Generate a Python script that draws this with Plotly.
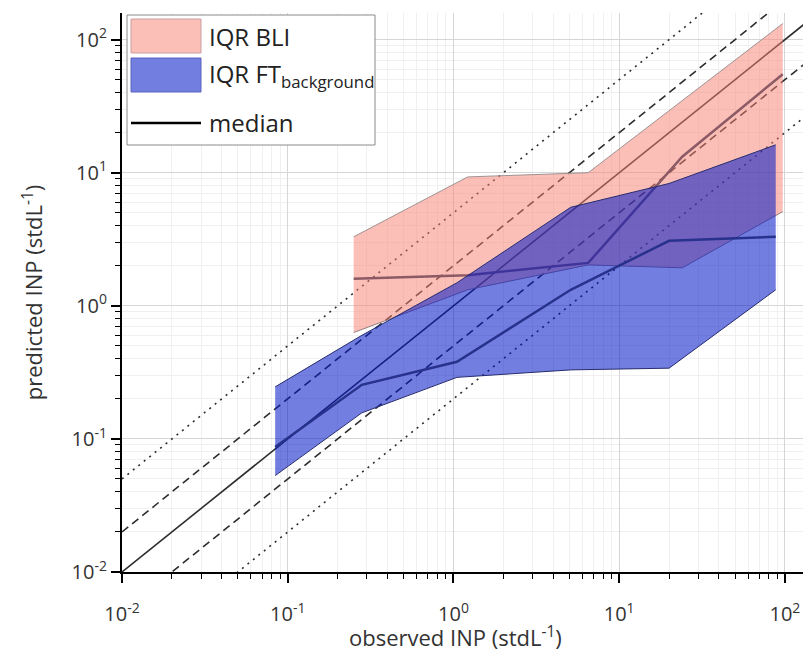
import plotly.graph_objects as go

# ---------------- data ----------------
ref_factors = [1, 2, 5]
ref_x = [0.01, 1000]

bli_x = [0.25, 1.22, 6.5, 24, 97]
bli_q25 = [0.63, 1.32, 2.03, 1.93, 5.1]
bli_median = [1.6, 1.7, 2.1, 13.2, 55]
bli_q75 = [3.3, 9.3, 10.0, 35, 132]

ft_x = [0.084, 0.28, 1.05, 5.1, 20, 88]
ft_q25 = [0.053, 0.157, 0.29, 0.33, 0.34, 1.32]
ft_median = [0.087, 0.255, 0.38, 1.32, 3.08, 3.3]
ft_q75 = [0.246, 0.6, 1.49, 5.5, 8.3, 16.2]

tick_vals = [0.01, 0.1, 1, 10, 100]
tick_text = ["10<sup>-2</sup>", "10<sup>-1</sup>", "10<sup>0</sup>", "10<sup>1</sup>", "10<sup>2</sup>"]

x_title = "observed INP (stdL<sup>-1</sup>)"
y_title = "predicted INP (stdL<sup>-1</sup>)"
legend_labels = ["IQR BLI", "IQR FT<sub>background</sub>", "median"]

# ---------------- styles ----------------
FONT = "Open Sans"
PINK_FILL = "rgba(250,128,114,0.5)"
BLUE_FILL = "rgba(0,22,199,0.55)"
REF_COLOR = "rgb(45,45,45)"

fig = go.Figure()

# reference lines 1:1, factor 2, factor 5 (bottom layer, primary x axis)
styles = {1: "solid", 2: "8px,5px", 5: "2px,5px"}
for f in ref_factors:
    for k in ([1] if f == 1 else [f, 1.0 / f]):
        fig.add_trace(go.Scatter(
            x=ref_x, y=[v * k for v in ref_x], mode="lines",
            line=dict(color=REF_COLOR, width=1.6, dash=styles[f]),
            showlegend=False, hoverinfo="skip"))

# bands on the overlaid x axis (same range), drawn above the reference lines
# BLI band
fig.add_trace(go.Scatter(x=bli_x, y=bli_q25, mode="lines", xaxis="x2",
                         line=dict(color="rgb(150,125,125)", width=1),
                         showlegend=False))
fig.add_trace(go.Scatter(x=bli_x, y=bli_q75, mode="lines", fill="tonexty", xaxis="x2",
                         fillcolor=PINK_FILL,
                         line=dict(color="rgb(160,145,145)", width=1),
                         showlegend=False))
fig.add_trace(go.Scatter(x=bli_x, y=bli_median, mode="lines", xaxis="x2",
                         line=dict(color="rgb(140,90,100)", width=2.5),
                         showlegend=False))

# FT background band
fig.add_trace(go.Scatter(x=ft_x, y=ft_q25, mode="lines", xaxis="x2",
                         line=dict(color="rgb(40,45,110)", width=1),
                         showlegend=False))
fig.add_trace(go.Scatter(x=ft_x, y=ft_q75, mode="lines", fill="tonexty", xaxis="x2",
                         fillcolor=BLUE_FILL,
                         line=dict(color="rgb(40,45,110)", width=1),
                         showlegend=False))
fig.add_trace(go.Scatter(x=ft_x, y=ft_median, mode="lines", xaxis="x2",
                         line=dict(color="rgb(40,50,140)", width=2.5),
                         showlegend=False))

# ---------------- layout ----------------
W, H = 803, 667
L, R, T, B = 122, 0, 13, 95
X_RANGE = [-2, 2.109]


def px(sx):
    return (sx - L) / (W - L - R)


def py(sy):
    return (H - B - sy) / (H - B - T)


axis_common = dict(
    type="log",
    automargin=False,
    tickvals=tick_vals, ticktext=tick_text,
    ticks="outside", ticklen=9, tickwidth=1.5, tickcolor="black",
    showline=True, linecolor="black", linewidth=2,
    showgrid=True, gridcolor="#d6d6d6", gridwidth=1,
    minor=dict(dtick="D1", ticks="outside", ticklen=5, tickwidth=1.2,
               tickcolor="black", showgrid=True, gridcolor="#f0f0f0"),
    tickfont=dict(family=FONT, size=20, color="#333"),
    zeroline=False,
)

fig.update_layout(
    width=W, height=H,
    margin=dict(l=L, r=R, t=T, b=B, autoexpand=False),
    paper_bgcolor="white", plot_bgcolor="white",
    showlegend=False,
    font=dict(family=FONT, color="#333"),
    # primary x axis: line, ticks and grid (labels carried by x2)
    xaxis=dict(axis_common, range=X_RANGE, showticklabels=False),
    # overlaid x axis: only the tick labels, set a little lower
    xaxis2=dict(type="log", range=X_RANGE, overlaying="x", side="bottom", anchor="y",
                automargin=False, tickvals=tick_vals, ticktext=tick_text,
                ticks="outside", ticklen=24, tickcolor="rgba(0,0,0,0)",
                showline=False, showgrid=False, zeroline=False,
                tickfont=dict(family=FONT, size=20, color="#333")),
    yaxis=dict(axis_common, range=[-2, 2.2],
               title=dict(text=y_title,
                          font=dict(family=FONT, size=22, color="#333"),
                          standoff=23)),
)

# x-axis title placed as text below the tick labels
fig.add_annotation(xref="paper", yref="paper", x=px(455), y=py(636),
                   text=x_title, showarrow=False, xanchor="center", yanchor="middle",
                   font=dict(family=FONT, size=22, color="#333"))

# ---------------- legend (drawn as shapes + text) ----------------
shapes = [
    dict(type="rect", xref="paper", yref="paper",
         x0=px(127), x1=px(375), y0=py(145), y1=py(15),
         fillcolor="white", line=dict(color="#8a8a8a", width=1), layer="above"),
    dict(type="rect", xref="paper", yref="paper",
         x0=px(131), x1=px(201), y0=py(53), y1=py(19),
         fillcolor=PINK_FILL, line=dict(color="rgb(200,160,160)", width=1), layer="above"),
    dict(type="rect", xref="paper", yref="paper",
         x0=px(131), x1=px(201), y0=py(92), y1=py(58),
         fillcolor=BLUE_FILL, line=dict(color="rgb(90,100,190)", width=1), layer="above"),
    dict(type="line", xref="paper", yref="paper",
         x0=px(131), x1=px(201), y0=py(123), y1=py(123),
         line=dict(color="black", width=2.5), layer="above"),
]
fig.update_layout(shapes=shapes)

for label, yc in zip(legend_labels, [36, 75, 123]):
    fig.add_annotation(xref="paper", yref="paper", x=px(207), y=py(yc),
                       text=label, showarrow=False, xanchor="left", yanchor="middle",
                       font=dict(family=FONT, size=24, color="#222"))

fig.write_html("out.html",
               config={"displayModeBar": False},
               post_script="document.body.style.margin='0';"
                           "document.body.style.overflow='hidden';")
